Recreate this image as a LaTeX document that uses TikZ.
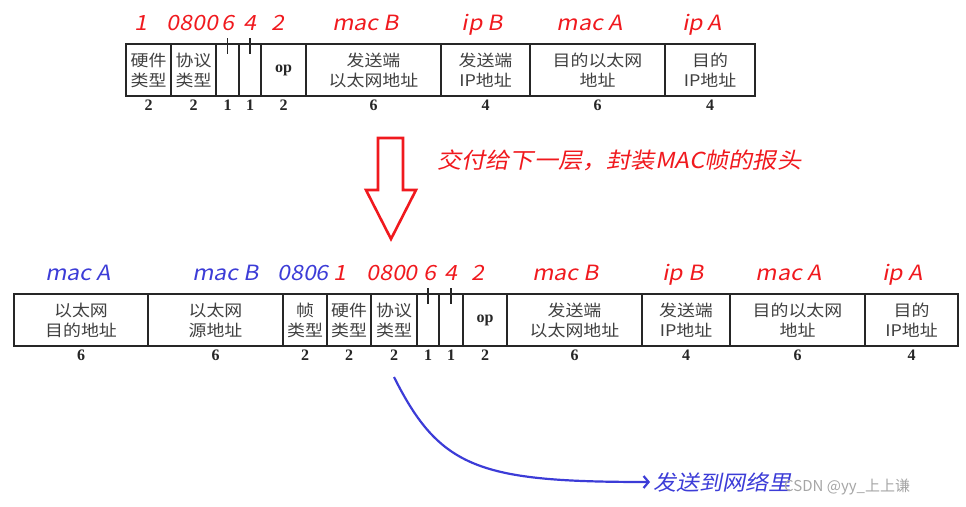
\documentclass[tikz,border=0pt]{standalone}
\usepackage{fontspec}
\usepackage{tikz}
\usetikzlibrary{positioning,arrows.meta}
\newfontfamily\cellfont[FakeStretch=1.12]{Noto Sans CJK SC}
\newfontfamily\tagfont[FakeSlant=0.2,FakeStretch=1.1]{Noto Sans CJK SC}
\newfontfamily\markfont{Noto Sans CJK SC}
\newfontfamily\numfont{Liberation Serif}
\definecolor{tagred}{RGB}{240,25,30}
\definecolor{tagblue}{RGB}{60,60,215}

\begin{document}
\begin{tikzpicture}[x=1pt, y=-1pt,
cell/.style={draw=black!85, line width=1.7pt, minimum height=52, inner sep=2pt, outer sep=0pt, align=center, text=black!75, font=\cellfont\fontsize{16}{20}\selectfont},
opcell/.style={cell, font=\numfont\bfseries\fontsize{16}{16}\selectfont, text=black!85},
num/.style={font=\numfont\bfseries\fontsize{16}{16}\selectfont, text=black!85, inner sep=1pt, yshift=-3pt},
tag/.style={font=\tagfont\fontsize{21}{21}\selectfont, text=tagred, inner sep=2pt, text height=16pt, text depth=0pt, yshift=11pt},
btag/.style={tag, text=tagblue},
note/.style={font=\tagfont\fontsize{21}{21}\selectfont, inner sep=3pt, anchor=west}
]
    \useasboundingbox (0,0) rectangle (966,506);

    %ARP packet
    \node[cell, minimum width=45, label={[tag,xshift=-8pt]above:1}, label={[num]below:2}]
        (thw) at (148.5,70) {硬件\\类型};
    \node[cell, minimum width=45, right=0pt of thw, label={[tag,xshift=-1pt]above:0800}, label={[num]below:2}]
        (tproto) {协议\\类型};
    \node[cell, minimum width=23, right=0pt of tproto, label={[tag]above:6}, label={[num]below:1}]
        (thlen) {};
    \node[cell, minimum width=22, right=0pt of thlen, label={[tag]above:4}, label={[num]below:1}]
        (tplen) {};
    \node[opcell, minimum width=45, right=0pt of tplen, label={[tag,xshift=-6pt]above:2}, label={[num]below:2}]
        (top) {op};
    \node[cell, minimum width=135, right=0pt of top, label={[tag,xshift=-8pt]above:mac B}, label={[num]below:6}]
        (tsmac) {发送端\\以太网地址};
    \node[cell, minimum width=89, right=0pt of tsmac, label={[tag,xshift=-3pt]above:ip B}, label={[num]below:4}]
        (tsip) {发送端\\IP地址};
    \node[cell, minimum width=135, right=0pt of tsip, label={[tag,xshift=-8pt]above:mac A}, label={[num]below:6}]
        (tdmac) {目的以太网\\地址};
    \node[cell, minimum width=90, right=0pt of tdmac, label={[tag,xshift=-8pt]above:ip A}, label={[num]below:4}]
        (tdip) {目的\\IP地址};

    %Ethernet frame
    \node[cell, minimum width=134, label={[btag,xshift=-3pt]above:mac A}, label={[num]below:6}]
        (bedst) at (81,320) {以太网\\目的地址};
    \node[cell, minimum width=135, right=0pt of bedst, label={[btag,xshift=10pt]above:mac B}, label={[num]below:6}]
        (besrc) {以太网\\源地址};
    \node[cell, minimum width=44, right=0pt of besrc, label={[btag,xshift=-2pt]above:0806}, label={[num]below:2}]
        (btype) {帧\\类型};
    \node[cell, minimum width=44, right=0pt of btype, label={[tag,xshift=-9pt]above:1}, label={[num]below:2}]
        (bhw) {硬件\\类型};
    \node[cell, minimum width=46, right=0pt of bhw, label={[tag,xshift=-2pt]above:0800}, label={[num,name=nproto]below:2}]
        (bproto) {协议\\类型};
    \node[cell, minimum width=22, right=0pt of bproto, label={[tag,xshift=2pt]above:6}, label={[num]below:1}]
        (bhlen) {};
    \node[cell, minimum width=24, right=0pt of bhlen, label={[tag]above:4}, label={[num]below:1}]
        (bplen) {};
    \node[opcell, minimum width=44, right=0pt of bplen, label={[tag,xshift=-7pt]above:2}, label={[num]below:2}]
        (bop) {op};
    \node[cell, minimum width=135, right=0pt of bop, label={[tag,xshift=-9pt]above:mac B}, label={[num]below:6}]
        (bsmac) {发送端\\以太网地址};
    \node[cell, minimum width=88, right=0pt of bsmac, label={[tag,xshift=-3pt]above:ip B}, label={[num]below:4}]
        (bsip) {发送端\\IP地址};
    \node[cell, minimum width=135, right=0pt of bsip, label={[tag,xshift=-9pt]above:mac A}, label={[num]below:6}]
        (bdmac) {目的以太网\\地址};
    \node[cell, minimum width=93, right=0pt of bdmac, label={[tag,xshift=-9pt]above:ip A}, label={[num]below:4}]
        (bdip) {目的\\IP地址};

    %Ticks
    \foreach \c in {thlen,tplen,bhlen,bplen}
        \draw[line width=1.5pt, black!85] (\c.north) ++(0,-6) -- ++(0,16);

    %Notes
    \node[note, text=tagred, font=\tagfont\fontsize{22}{22}\selectfont] (encap) at (434,160) {交付给下一层，封装MAC帧的报头};
    \node[note, text=tagblue] (wire) at (650,482) {发送到网络里};
    \node[font=\markfont\fontsize{15}{15}\selectfont, text=black!35, anchor=west, inner sep=0pt]
        (mark) at (784,487) {CSDN @yy\_上上谦};

    %Arrows
    \draw[tagred, line width=2.6pt]
        (378,138) -- (403,138) -- (403,190) -- (416,190) -- (391,239) -- (366,190) -- (378,190) -- cycle;
    \draw[tagblue, line width=2.2pt, -{Straight Barb[length=5pt,width=12pt]}]
        ([yshift=-15pt]nproto.south) .. controls +(46,92) and +(-170,0) .. (wire.west);
\end{tikzpicture}
\end{document}
